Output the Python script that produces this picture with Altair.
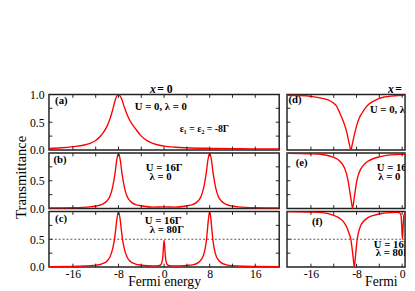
import altair as alt
import pandas as pd

# ---------------- data ----------------
E_a = [-20.2, -18, -16, -14, -13, -12, -11, -10, -9.5, -9, -8.5, -8, -7.5, -7, -6.5, -6, -5, -4, -3, -2, 0, 2, 4, 8, 12, 16, 20.2]
T_a = [0.03, 0.04, 0.06, 0.09, 0.12, 0.17, 0.27, 0.43, 0.56, 0.73, 0.92, 1.0, 0.93, 0.78, 0.64, 0.53, 0.38, 0.25, 0.17, 0.12, 0.07, 0.05, 0.04, 0.03, 0.025, 0.02, 0.02]

E_b = [-20.2, -16, -13, -12, -11, -10, -9.5, -9, -8.6, -8.3, -8, -7.7, -7.4, -7, -6.5, -6, -5, -4, -2, 0, 2, 4, 5, 6, 6.5, 7, 7.4, 7.7, 8, 8.3, 8.6, 9, 9.5, 10, 11, 12, 13, 16, 20.2]
T_b = [0.01, 0.015, 0.03, 0.045, 0.07, 0.14, 0.22, 0.4, 0.64, 0.88, 1.0, 0.88, 0.64, 0.4, 0.22, 0.14, 0.07, 0.05, 0.025, 0.03, 0.025, 0.05, 0.07, 0.14, 0.22, 0.4, 0.64, 0.88, 1.0, 0.88, 0.64, 0.4, 0.22, 0.14, 0.07, 0.045, 0.03, 0.015, 0.01]

E_c = [-20.2, -16, -12, -11, -10, -9.5, -9, -8.7, -8.5, -8.3, -8, -7.7, -7.5, -7.3, -7, -6.5, -6, -5, -4, -2, -1, -0.6, -0.35, -0.2, -0.1, 0, 0.1, 0.2, 0.35, 0.6, 1, 2, 4, 5, 6, 6.8, 7.2, 7.45, 7.6, 7.75, 8, 8.25, 8.4, 8.55, 8.8, 9.2, 10, 11, 12, 14, 16, 20.2]
T_c = [0.008, 0.012, 0.035, 0.055, 0.11, 0.18, 0.34, 0.5, 0.67, 0.85, 1.0, 0.85, 0.67, 0.5, 0.34, 0.18, 0.11, 0.055, 0.035, 0.02, 0.025, 0.04, 0.1, 0.22, 0.38, 0.48, 0.38, 0.22, 0.1, 0.04, 0.025, 0.02, 0.03, 0.04, 0.08, 0.18, 0.33, 0.5, 0.66, 0.83, 1.0, 0.83, 0.66, 0.5, 0.33, 0.18, 0.08, 0.04, 0.025, 0.015, 0.012, 0.008]

E_d = [-20.2, -18, -16, -14, -13, -12, -11.5, -11, -10.5, -10, -9.75, -9.5, -9.25, -9, -8.75, -8.5, -8.25, -8, -7.5, -7, -6.5, -6, -5, -4, -3, -2, 0, 2, 4, 8, 12, 16, 20.2]
T_d = [0.985, 0.98, 0.965, 0.93, 0.9, 0.84, 0.79, 0.68, 0.56, 0.42, 0.33, 0.22, 0.1, 0.0, 0.1, 0.22, 0.33, 0.43, 0.58, 0.67, 0.75, 0.81, 0.88, 0.93, 0.955, 0.97, 0.985, 0.99, 0.99, 0.995, 0.995, 0.995, 0.995]

E_e = [-20.2, -16, -14, -12, -11, -10.5, -10, -9.7, -9.4, -9.1, -8.9, -8.7, -8.5, -8.3, -8, -7.7, -7.4, -7, -6.5, -6, -5, -4, -2, 0, 2, 4, 5, 6, 6.5, 7, 7.3, 7.6, 7.8, 8, 8.2, 8.4, 8.7, 9, 9.5, 10, 11, 12, 14, 16, 20.2]
T_e = [0.995, 0.985, 0.97, 0.92, 0.86, 0.8, 0.7, 0.6, 0.45, 0.25, 0.12, 0.0, 0.12, 0.27, 0.47, 0.6, 0.68, 0.75, 0.81, 0.85, 0.9, 0.93, 0.965, 0.975, 0.97, 0.93, 0.9, 0.85, 0.8, 0.72, 0.6, 0.4, 0.2, 0.0, 0.2, 0.4, 0.6, 0.72, 0.8, 0.85, 0.9, 0.93, 0.96, 0.975, 0.985]

E_f = [-20.2, -16, -14, -12, -11, -10.5, -10, -9.6, -9.3, -9, -8.8, -8.6, -8.4, -8.2, -8, -7.8, -7.5, -7.2, -6.8, -6, -5, -4, -2, -1, -0.5, -0.2, -0.08, 0.05, 0.18, 0.3, 0.6, 1, 2, 4, 5, 6, 6.6, 7, 7.3, 7.6, 7.8, 8, 8.2, 8.4, 8.7, 9, 9.4, 10, 11, 12, 14, 16, 20.2]
T_f = [0.998, 0.99, 0.98, 0.93, 0.88, 0.84, 0.77, 0.69, 0.6, 0.5, 0.35, 0.18, 0.0, 0.18, 0.4, 0.55, 0.68, 0.76, 0.82, 0.89, 0.93, 0.955, 0.98, 0.985, 0.98, 0.93, 0.75, 0.5, 0.75, 0.93, 0.98, 0.985, 0.98, 0.955, 0.93, 0.89, 0.82, 0.76, 0.68, 0.55, 0.4, 0.18, 0.0, 0.18, 0.4, 0.55, 0.68, 0.77, 0.85, 0.9, 0.95, 0.97, 0.985]

X_DOMAIN_LEFT = [-20.2, 20.2]
X_DOMAIN_RIGHT = [-20.2, 0.51]          # right column is cut by the picture's edge
X_LABELS = [-16, -8, 0, 8, 16]
X_MINOR = [-16, -12, -8, -4, 0, 4, 8, 12, 16]
Y_LABELS_TOP = [0, 0.5, 1.0]
Y_LABELS = [0, 0.5]
Y_MINOR = [0.25, 0.5, 0.75]
HALF_LINE = [0.5]

COL_TITLES = ["= 0", "= 1"]
X_TITLE = "Fermi energy"
Y_TITLE = "Transmittance"
PANEL_TAGS = ["(a)", "(b)", "(c)", "(d)", "(e)", "(f)"]
NOTE_U0 = "U = 0, λ = 0"
NOTE_EPS = "ε₁ = ε₂ = -8Γ"
NOTE_U16 = "U = 16Γ"
NOTE_L0 = "λ = 0"
NOTE_L80 = "λ = 80Γ"

# ---------------- styling / layout ----------------
H = 57
W_LEFT = 236
W_RIGHT = 121
SERIF = "Liberation Serif"
TICK = 3.5
NOTE = 11


def text_layer(txt, x, y, size=NOTE, weight="bold", style="normal", clip=False, limit=0):
    kw = dict(align="left", baseline="middle", font=SERIF, fontSize=size,
              fontWeight=weight, fontStyle=style, color="black")
    if clip:
        kw["clip"] = True
    if limit:
        kw["limit"] = limit
        kw["ellipsis"] = "\u200b"
    return alt.Chart(pd.DataFrame({"t": [txt]})).mark_text(**kw).encode(
        text="t:N", x=alt.value(x), y=alt.value(y))


def panel(E, T, notes, width, domain, dashed=False, xaxis=False, ylabels=None,
          ytitle=False, top=None, right=False):
    xs = alt.Scale(domain=domain, nice=False, zero=False)
    ys = alt.Scale(domain=[0, 1], nice=False, zero=False)
    xlab = [v for v in X_LABELS if domain[0] <= v <= domain[1]]
    xmin = [v for v in X_MINOR if domain[0] <= v <= domain[1]]
    if xaxis:
        xkw = dict(values=xlab, labelExpr="'' + datum.value", ticks=False,
                   domain=False, grid=False, labelFont=SERIF, labelFontSize=12,
                   labelColor="black", labelPadding=2, labelFlush=False)
        if right:
            xkw.update(title=None)
        else:
            xkw.update(title=X_TITLE, titleFont=SERIF, titleFontSize=14,
                       titleFontWeight="normal", titleColor="black", titleY=15,
                       titleBaseline="middle")
        xa = alt.Axis(**xkw)
    else:
        xa = None
    if ylabels:
        ykw = dict(values=ylabels, format=".1f", ticks=False, domain=False, grid=False,
                   labelFont=SERIF, labelFontSize=12, labelColor="black",
                   labelPadding=5, labelFlush=False, labelBaseline="middle")
        if ytitle:
            ykw.update(title=Y_TITLE, titleFont=SERIF, titleFontSize=15,
                       titleFontWeight="normal", titleColor="black", titleX=-24,
                       titleY=24.5, titleAngle=270, titleBaseline="alphabetic",
                       titleAlign="center")
        else:
            ykw.update(title=None)
        ya = alt.Axis(**ykw)
    else:
        ya = None
    X = alt.X("E:Q", scale=xs, axis=xa)
    Y = alt.Y("T:Q", scale=ys, axis=ya)

    layers = []
    if dashed:
        layers.append(alt.Chart(pd.DataFrame({"T": HALF_LINE})).mark_rule(
            color="#555", strokeDash=[2, 2], strokeWidth=1).encode(y=Y))
    layers.append(alt.Chart(pd.DataFrame({"E": E, "T": T})).mark_line(
        color="#ff0000", strokeWidth=1.4, interpolate="monotone", clip=True
    ).encode(x=X, y=Y))
    xt = pd.DataFrame({"E": xmin})
    yt = pd.DataFrame({"T": Y_MINOR})
    layers.append(alt.Chart(xt).mark_rule(color="#222", strokeWidth=1).encode(
        x=X, y=alt.value(0), y2=alt.value(TICK)))
    layers.append(alt.Chart(xt).mark_rule(color="#222", strokeWidth=1).encode(
        x=X, y=alt.value(H), y2=alt.value(H - TICK)))
    layers.append(alt.Chart(yt).mark_rule(color="#222", strokeWidth=1).encode(
        y=Y, x=alt.value(0), x2=alt.value(TICK)))
    if not right:
        layers.append(alt.Chart(yt).mark_rule(color="#222", strokeWidth=1).encode(
            y=Y, x=alt.value(width - TICK), x2=alt.value(width)))
    for n in notes:
        layers.append(text_layer(*n, clip=right))
    if top is not None:
        layers.append(text_layer("x", 103.5, -5.5, 12, "bold", "italic"))
        layers.append(text_layer(top, 111, -5.5, 12, "bold",
                                 limit=(width - 111) if right else 0))
    if xaxis and right:
        layers.append(text_layer(X_TITLE, 80, H + 15, 14, "normal",
                                 limit=width - 80))
    return alt.layer(*layers).properties(width=width, height=H)


pa = panel(E_a, T_a, [(PANEL_TAGS[0], 6.3, 6.8), (NOTE_U0, 88, 12.5),
                      (NOTE_EPS, 134, 35.5, 10)],
           W_LEFT, X_DOMAIN_LEFT, ylabels=Y_LABELS_TOP, top=COL_TITLES[0])
pb = panel(E_b, T_b, [(PANEL_TAGS[1], 4.6, 7.5), (NOTE_U16, 99.3, 15.5),
                      (NOTE_L0, 103, 24.5)],
           W_LEFT, X_DOMAIN_LEFT, ylabels=Y_LABELS, ytitle=True)
pc = panel(E_c, T_c, [(PANEL_TAGS[2], 6.3, 7.8), (NOTE_U16, 98.3, 10.2),
                      (NOTE_L80, 103.3, 18.8)],
           W_LEFT, X_DOMAIN_LEFT, dashed=True, xaxis=True, ylabels=Y_LABELS)
pd_ = panel(E_d, T_d, [(PANEL_TAGS[3], 1.5, 5.5), (NOTE_U0, 85, 16.5)],
            W_RIGHT, X_DOMAIN_RIGHT, top=COL_TITLES[1], right=True)
pe = panel(E_e, T_e, [(PANEL_TAGS[4], 9, 10), (NOTE_U16, 92, 15.8),
                      (NOTE_L0, 93.5, 24.8)],
           W_RIGHT, X_DOMAIN_RIGHT, right=True)
pf = panel(E_f, T_f, [(PANEL_TAGS[5], 25.6, 11.2), (NOTE_U16, 89, 34),
                      (NOTE_L80, 91, 43)],
           W_RIGHT, X_DOMAIN_RIGHT, dashed=True, xaxis=True, right=True)

chart = alt.concat(pa, pd_, pb, pe, pc, pf, columns=2,
                   spacing={"row": 3, "column": 8}, bounds="flush").properties(
    padding={"left": 5, "top": 72, "right": 0, "bottom": 0}
).configure(background="white").configure_view(stroke="#222", strokeWidth=1.5)

chart.save("out.html", embed_options={"renderer": "svg", "actions": False})
